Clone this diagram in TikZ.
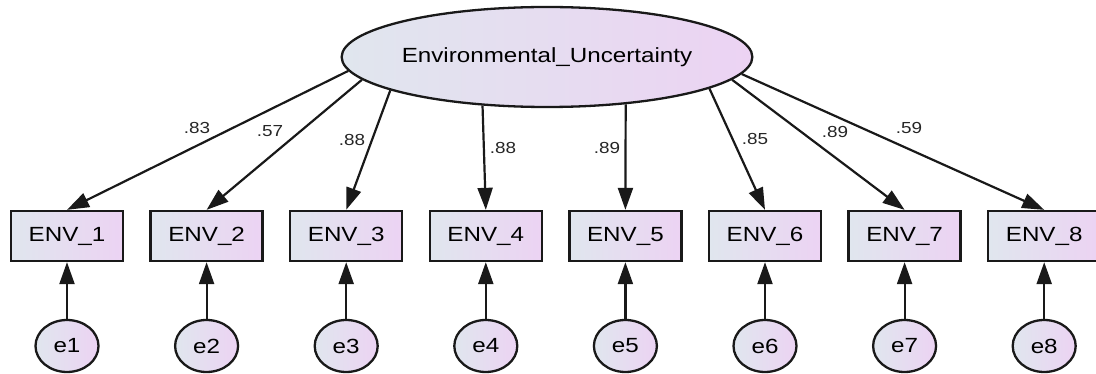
\documentclass[tikz,border=0pt]{standalone}
\usepackage{graphicx}
\usepackage{fontspec}
\setmainfont{Liberation Sans}
\usetikzlibrary{shapes.geometric,arrows.meta}
\definecolor{shadeL}{RGB}{224,230,238}
\definecolor{shadeR}{RGB}{236,211,243}
\newcommand{\wide}[1]{\scalebox{1.18}[1]{#1}}
\tikzset{
  filled/.style={left color=shadeL, right color=shadeR, line width=2.3pt, draw=black!90, inner sep=0pt},
  latent/.style={filled, ellipse, minimum width=399pt, minimum height=100pt,
    font=\fontsize{20.5}{24}\selectfont},
  observed/.style={filled, rectangle, minimum width=112pt, minimum height=50pt,
    font=\fontsize{20.5}{24}\selectfont},
  errvar/.style={filled, ellipse, minimum width=63pt, minimum height=52pt,
    font=\fontsize{20.5}{24}\selectfont},
  link/.style={-{Triangle[length=22pt,width=15pt]}, line width=2.2pt, black!90},
  weight/.style={font=\fontsize{16}{18}\selectfont, text=black!85, inner sep=0pt}
}
\begin{document}
\begin{tikzpicture}[x=1pt,y=-1pt]
  \useasboundingbox (0,0) rectangle (1096,374);
  % latent factor
  \node[latent] (E) at (547,57) {\wide{Environmental\_Uncertainty}};
  % indicators, their error terms and the paths
  \foreach \i/\x/\a in {1/67/184.2, 2/206.6/187.0, 3/346.2/192.1, 4/485.8/217.9,
                        5/625.4/329.6, 6/765/349.0, 7/904.6/353.8, 8/1044.2/355.8} {
    \node[observed] (b\i) at (\x,236) {\wide{ENV\_\i}};
    \node[errvar] (e\i) at (\x,346) {\wide{e\i}};
    \draw[link] (e\i) -- (b\i);
    \draw[link] (E.\a) -- (b\i.north);
  }
  % standardized loadings
  \node[weight] (w1) at (197,128) {\wide{.83}};
  \node[weight] (w2) at (270,131) {\wide{.57}};
  \node[weight] (w3) at (352,140) {\wide{.88}};
  \node[weight] (w4) at (503,148) {\wide{.88}};
  \node[weight] (w5) at (607,148) {\wide{.89}};
  \node[weight] (w6) at (755,139) {\wide{.85}};
  \node[weight] (w7) at (835,132) {\wide{.89}};
  \node[weight] (w8) at (909,128) {\wide{.59}};
\end{tikzpicture}
\end{document}
